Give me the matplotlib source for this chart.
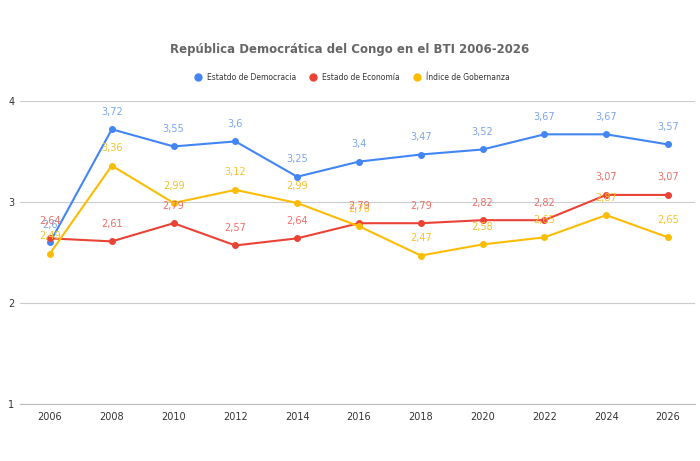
import matplotlib.pyplot as plt
from matplotlib.lines import Line2D

YEARS = [2006, 2008, 2010, 2012, 2014, 2016, 2018, 2020, 2022, 2024, 2026]
DEMOCRACIA = [2.6, 3.72, 3.55, 3.6, 3.25, 3.4, 3.47, 3.52, 3.67, 3.67, 3.57]
ECONOMIA = [2.64, 2.61, 2.79, 2.57, 2.64, 2.79, 2.79, 2.82, 2.82, 3.07, 3.07]
GOBERNANZA = [2.49, 3.36, 2.99, 3.12, 2.99, 2.76, 2.47, 2.58, 2.65, 2.87, 2.65]

SERIES = [
    ("Estatdo de Democracia", DEMOCRACIA, "#4285f4", "#7aa6f0"),
    ("Estado de Economía", ECONOMIA, "#ea4335", "#ee6f66"),
    ("Índice de Gobernanza", GOBERNANZA, "#fbbc04", "#f5c12e"),
]


def fmt(v):
    s = f"{v:.2f}".rstrip("0").rstrip(".")
    return s.replace(".", ",")


fig = plt.figure(figsize=(7, 4.61), dpi=100)
# plot area: x 20..695 px, y 101..404 px
ax = fig.add_axes([20 / 700, 1 - 404 / 461, 675 / 700, 303 / 461])

for name, vals, color, lcolor in SERIES:
    ax.plot(YEARS, vals, color=color, linewidth=1.5, marker="o", markersize=4, label=name)
    for x, y in zip(YEARS, vals):
        ax.annotate(fmt(y), (x, y), xytext=(0, 9), textcoords="offset points",
                    ha="center", va="bottom", fontsize=7, color=lcolor)

px_per_year = 618 / 20
ax.set_xlim(2006 - 30 / px_per_year, 2026 + 27 / px_per_year)
ax.set_ylim(1, 4)
ax.set_xticks(YEARS)
ax.set_yticks([1, 2, 3, 4])
ax.grid(axis="y", color="#cccccc", linewidth=0.8)
ax.set_axisbelow(True)
for s in ax.spines.values():
    s.set_visible(False)
ax.spines["bottom"].set_visible(True)
ax.spines["bottom"].set_color("#bbbbbb")
ax.tick_params(length=0, labelsize=7, colors="#333333")
ax.tick_params(axis="x", pad=6)
ax.tick_params(axis="y", pad=4)

fig.text(0.5, 1 - 50 / 461, "República Democrática del Congo en el BTI 2006-2026",
         ha="center", va="center", fontsize=8.5, fontweight="bold", color="#666666")

handles = [Line2D([], [], marker="o", linestyle="", markersize=5, color=c) for _, _, c, _ in SERIES]
fig.legend(handles, [n for n, _, _, _ in SERIES], loc="center", bbox_to_anchor=(0.5, 1 - 77 / 461),
           ncol=3, frameon=False, fontsize=5.5, handletextpad=0.2, columnspacing=1.2,
           labelcolor="#333333")

fig.savefig("out.png", dpi=100)
